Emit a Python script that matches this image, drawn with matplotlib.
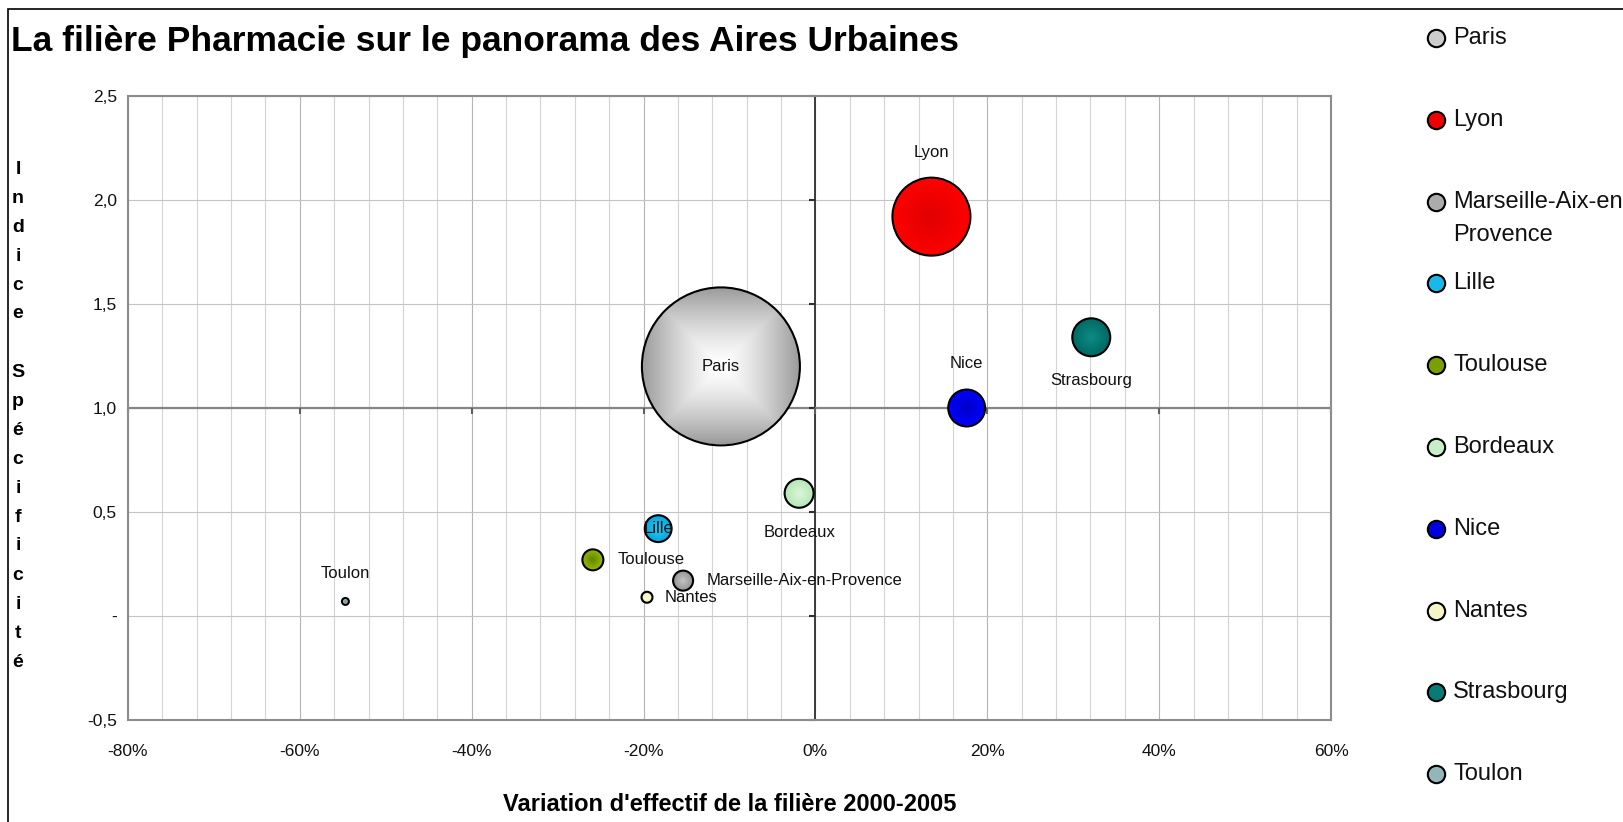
import numpy as np
import matplotlib.pyplot as plt
import matplotlib.colors as mcolors
from matplotlib.patches import Rectangle
from matplotlib.lines import Line2D
from matplotlib.ticker import FuncFormatter, MultipleLocator

plt.rcParams['font.family'] = 'Liberation Sans'

# données
villes = ["Paris", "Lyon", "Marseille-Aix-en-Provence", "Lille", "Toulouse",
          "Bordeaux", "Nice", "Nantes", "Strasbourg", "Toulon"]
legende = ["Paris", "Lyon", "Marseille-Aix-en-\nProvence", "Lille", "Toulouse",
           "Bordeaux", "Nice", "Nantes", "Strasbourg", "Toulon"]
variation = [-0.110, 0.135, -0.154, -0.183, -0.259, -0.019, 0.176, -0.196, 0.321, -0.547]
indice = [1.20, 1.92, 0.17, 0.42, 0.27, 0.59, 1.00, 0.09, 1.34, 0.07]
taille = [6240, 1520, 100, 180, 110, 210, 340, 30, 360, 12]

couleur_centre = ["#ffffff", "#e00000", "#c4c4c4", "#30c8f4", "#5a8800", "#dcf6dc",
                  "#0000c4", "#fbfbd8", "#0c8c86", "#6e8a8a"]
couleur_bord = ["#9a9a9a", "#ff0000", "#929292", "#00a8dc", "#9ab800", "#b4e6b4",
                "#0000ff", "#efefb4", "#006864", "#b8e2e2"]

# position des étiquettes (décalage en points, alignement)
etiquettes = {
    "Paris": ((0, 0), "center", "center"),
    "Lyon": ((0, 46), "center", "center"),
    "Marseille-Aix-en-Provence": ((17, 0), "left", "center"),
    "Lille": ((0, 0), "center", "center"),
    "Toulouse": ((18, 0), "left", "center"),
    "Bordeaux": ((0, -28), "center", "center"),
    "Nice": ((0, 32), "center", "center"),
    "Nantes": ((13, 0), "left", "center"),
    "Strasbourg": ((0, -31), "center", "center"),
    "Toulon": ((0, 20), "center", "center"),
}

W, H = 1623, 822
fig = plt.figure(figsize=(W / 100, H / 100), dpi=100)
fig.patch.set_facecolor('white')
ax = fig.add_axes([128 / W, (H - 720) / H, 1203 / W, 624 / H])

xmin, xmax, ymin, ymax = -0.8, 0.6, -0.5, 2.5
ax.set_xlim(xmin, xmax)
ax.set_ylim(ymin, ymax)

k = (2 * 0.72) ** 2  # taille -> aire du marqueur en points^2


def bulle(x, y, s, c0, c1, carre=False):
    r = np.sqrt(s) / 2 * fig.dpi / 72
    cx, cy = ax.transData.transform((x, y))
    inv = ax.transData.inverted()
    x0, y0 = inv.transform((cx - r, cy - r))
    x1, y1 = inv.transform((cx + r, cy + r))
    n = 240
    u, v = np.meshgrid(np.linspace(-1, 1, n), np.linspace(-1, 1, n))
    if carre:
        d = np.maximum(np.abs(u), np.abs(v)) ** 1.4
    else:
        d = np.hypot(u, v)
    t = np.clip(d, 0, 1)[..., None]
    rgb = (1 - t) * np.array(mcolors.to_rgb(c0)) + t * np.array(mcolors.to_rgb(c1))
    alpha = (np.hypot(u, v) <= 1.0).astype(float)
    img = np.dstack([rgb, alpha])
    ax.imshow(img, extent=[x0, x1, y0, y1], origin='lower', aspect='auto',
              interpolation='bilinear', zorder=3)


for i in range(len(villes)):
    bulle(variation[i], indice[i], taille[i] * k, couleur_centre[i], couleur_bord[i],
          carre=(villes[i] == "Paris"))

ax.scatter(variation, indice, s=np.array(taille) * k, facecolors='none',
           edgecolors='black', linewidths=1.5, zorder=4)

for i, v in enumerate(villes):
    off, ha, va = etiquettes[v]
    ax.annotate(v, (variation[i], indice[i]), xytext=off, textcoords='offset points',
                ha=ha, va=va, fontsize=12, color='#111111', zorder=5)

ax.set_xlim(xmin, xmax)
ax.set_ylim(ymin, ymax)

# quadrillage
ax.xaxis.set_major_locator(MultipleLocator(0.2))
ax.xaxis.set_minor_locator(MultipleLocator(0.04))
ax.yaxis.set_major_locator(MultipleLocator(0.5))
ax.grid(which='minor', axis='x', color='#d4d4d4', lw=0.8, zorder=0)
ax.grid(which='major', axis='x', color='#b4b4b4', lw=0.8, zorder=0)
ax.grid(which='major', axis='y', color='#c4c4c4', lw=0.8, zorder=0)
ax.set_axisbelow(True)

ax.xaxis.set_major_formatter(FuncFormatter(lambda v, p: f"{int(round(v * 100))}%"))
ax.yaxis.set_major_formatter(FuncFormatter(
    lambda v, p: "-" if abs(v) < 1e-9 else f"{v:.1f}".replace('.', ',')))
ax.tick_params(which='both', length=0, labelsize=12.5, colors='#111111')
ax.tick_params(axis='x', pad=17)
ax.tick_params(axis='y', pad=8)

for sp in ax.spines.values():
    sp.set_color('#8c8c8c')
    sp.set_linewidth(1.5)

# axes croisés en x=0 et y=1
yt = np.arange(ymin, ymax + 0.01, 0.5)
xt = np.arange(xmin, xmax + 0.01, 0.2)
ax.axvline(0, color='#303030', lw=1.3, zorder=2)
ax.axhline(1, color='#858585', lw=1.6, zorder=2)
ax.plot(np.zeros(len(yt)), yt, ls='none', marker=0, markersize=4, mew=1.5,
        color='#303030', zorder=2, clip_on=False)
ax.plot(xt, np.ones(len(xt)), ls='none', marker=3, markersize=4, mew=1.5,
        color='#606060', zorder=2, clip_on=False)

# titres
fig.text(11 / W, 1 - 41 / H, "La filière Pharmacie sur le panorama des Aires Urbaines",
         fontsize=25.5, fontweight='bold', va='center', ha='left')
fig.text(729.5 / W, 1 - 804 / H, "Variation d'effectif de la filière 2000-2005",
         fontsize=17, fontweight='bold', va='center', ha='center')
lettres = list("Indice Spécificité")
for j, ch in enumerate(lettres):
    fig.text(18 / W, 1 - (169 + j * 29.0) / H, ch, fontsize=14, fontweight='bold',
             ha='center', va='center')

# légende
for i, lab in enumerate(legende):
    yy = 1 - (38 + i * 81.8) / H
    c = np.mean([mcolors.to_rgb(couleur_centre[i]), mcolors.to_rgb(couleur_bord[i])], axis=0)
    fig.add_artist(Line2D([1436 / W], [yy], marker='o', markersize=12.5, markerfacecolor=c,
                          markeredgecolor='black', markeredgewidth=1.5,
                          transform=fig.transFigure))
    for j, ligne in enumerate(lab.split('\n')):
        fig.text(1453 / W, yy - j * 33 / H, ligne, fontsize=17, va='center', ha='left',
                 color='#111111')

# cadre du graphique
fig.add_artist(Rectangle((8 / W, -0.5), 5, 1.5 - 9 / H, transform=fig.transFigure,
                         fill=False, edgecolor='black', lw=1.2))

fig.savefig('out.png', dpi=100)
